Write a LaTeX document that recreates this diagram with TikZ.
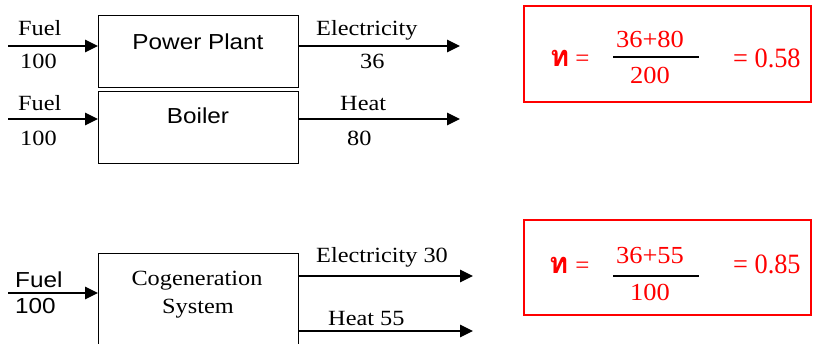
\documentclass[tikz,border=0pt]{standalone}
\usepackage{fontspec}
\setmainfont{Liberation Serif}
\newfontfamily\arialf{Liberation Sans}
\newfontfamily\thaifont[Script=Thai]{Loma}
\usetikzlibrary{arrows.meta}
\begin{document}
\begin{tikzpicture}[x=1pt,y=-1pt,
  blk/.style={draw, line width=1.3pt, minimum width=200pt, inner sep=0, anchor=north west},
  flow/.style={line width=1.3pt, -{Triangle[length=13pt,width=12.5pt]}},
  lbl/.style={inner sep=0, anchor=base west, xscale=1.12, transform shape, font=\fontsize{21.7pt}{26pt}\selectfont},
  slbl/.style={lbl, font=\arialf\fontsize{21.7pt}{26pt}\selectfont},
  res/.style={draw=red, line width=2pt, minimum width=287pt, inner sep=0, anchor=north west},
  rtxt/.style={text=red, inner sep=0, anchor=base, xscale=1.08, transform shape, font=\fontsize{24.5pt}{28pt}\selectfont},
  rres/.style={rtxt, anchor=base west, xscale=0.87, font=\fontsize{28pt}{32pt}\selectfont},
  eta/.style={text=red, inner sep=0, anchor=base west, font=\fontsize{25pt}{28pt}\selectfont},
  bar/.style={line width=1.5pt, black}
]
\useasboundingbox (0,0) rectangle (816,343);
\clip (0,0) rectangle (816,343);

% top: power plant and boiler
\node[blk, minimum height=72pt] (pp) at (98,15) {};
\node[blk, minimum height=72pt] (bo) at (98,91) {};
\node[slbl, anchor=base] (ppt) at (198,49) {Power Plant};
\node[slbl, anchor=base] (bot) at (198,123) {Boiler};

\coordinate (f1) at (8,46);
\coordinate (e1) at (460,46);
\coordinate (f2) at (8,119);
\coordinate (h1) at (460,119);
\draw[flow] (f1) -- (f1 -| pp.west);
\draw[flow] (e1 -| pp.east) -- (e1);
\draw[flow] (f2) -- (f2 -| bo.west);
\draw[flow] (h1 -| bo.east) -- (h1);

\node[lbl] (fuel1) at (18,35) {Fuel};
\node[lbl] (in1) at (20,68) {100};
\node[lbl] (elec1) at (316,35) {Electricity};
\node[lbl] (ev1) at (360,68) {36};
\node[lbl] (fuel2) at (18,110) {Fuel};
\node[lbl] (in2) at (20,145) {100};
\node[lbl] (heat1) at (340,110) {Heat};
\node[lbl] (hv1) at (347,145) {80};

% bottom: cogeneration
\node[blk, minimum height=120pt] (cg) at (98,253) {};
\node[lbl, anchor=base] (cgt1) at (197,285) {Cogeneration};
\node[lbl, anchor=base] (cgt2) at (198,313) {System};
\coordinate (f3) at (8,293);
\coordinate (e2) at (473,276);
\coordinate (h2) at (473,331);
\draw[flow] (f3) -- (f3 -| cg.west);
\draw[flow] (e2 -| cg.east) -- (e2);
\draw[flow] (h2 -| cg.east) -- (h2);
\node[slbl] (fuel3) at (15,287) {Fuel};
\node[slbl] (in3) at (15,313) {100};
\node[lbl] (elec2) at (316,262) {Electricity 30};
\node[lbl] (heat2) at (328,325) {Heat 55};

% efficiency boxes
\node[res, minimum height=96pt] (r1) at (523,5) {};
\node[eta] (eta1) at (550,66) {{\thaifont\bfseries\fontsize{29pt}{30pt}\selectfont ท}\hspace{6pt}=};
\node[rtxt] (num1) at (650,47) {36+80};
\node[rtxt] (den1) at (650,83) {200};
\coordinate (b1l) at (613,57);
\coordinate (b1r) at (699,57);
\draw[bar] (b1l) -- (b1r);
\node[rres] (v1) at (733,67) {= 0.58};

\node[res, minimum height=95pt] (r2) at (523,219) {};
\node[eta] (eta2) at (549,273) {{\thaifont\bfseries\fontsize{29pt}{30pt}\selectfont ท}\hspace{7pt}=};
\node[rtxt] (num2) at (650,263) {36+55};
\node[rtxt] (den2) at (650,300) {100};
\coordinate (b2l) at (613,276);
\coordinate (b2r) at (699,276);
\draw[bar] (b2l) -- (b2r);
\node[rres] (v2) at (733,273) {= 0.85};
\end{tikzpicture}
\end{document}
